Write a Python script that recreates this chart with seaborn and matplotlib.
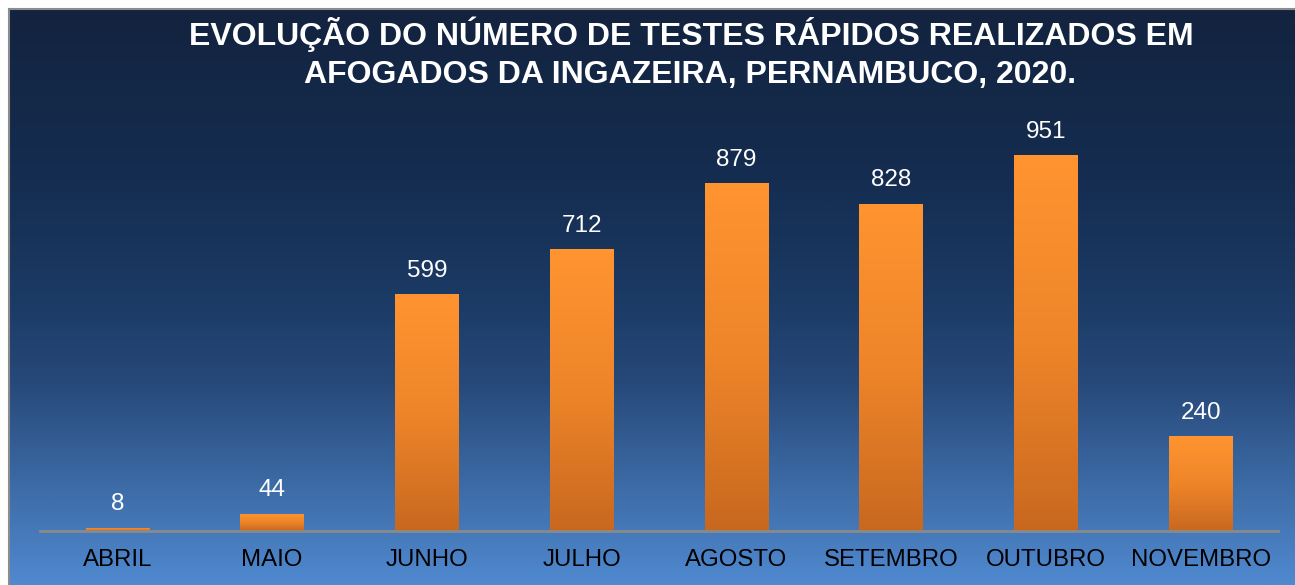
import numpy as np
import pandas as pd
import matplotlib
matplotlib.use("Agg")
import matplotlib.pyplot as plt
from matplotlib.colors import LinearSegmentedColormap
import seaborn as sns

# ---- data ----
months = ["ABRIL", "MAIO", "JUNHO", "JULHO", "AGOSTO", "SETEMBRO", "OUTUBRO", "NOVEMBRO"]
tests = [8, 44, 599, 712, 879, 828, 951, 240]
title_line1 = "EVOLUÇÃO DO NÚMERO DE TESTES RÁPIDOS REALIZADOS EM"
title_line2 = "AFOGADOS DA INGAZEIRA, PERNAMBUCO, 2020."

df = pd.DataFrame({"mes": months, "testes": tests})

sns.set_theme(style="white")
plt.rcParams["font.family"] = ["Liberation Sans", "DejaVu Sans"]

W, H = 1295, 585
fig = plt.figure(figsize=(W / 100, H / 100), dpi=100)
fig.patch.set_facecolor("white")

# ---- background gradient panel ----
bg = fig.add_axes([9 / W, 0, 1 - 9 / W, 1 - 9 / H])
bg_cmap = LinearSegmentedColormap.from_list(
    "bg",
    [(0.0, "#13233f"), (0.3, "#152d51"), (0.5, "#1b3a64"),
     (0.65, "#27497a"), (0.85, "#3f6fab"), (1.0, "#5089d0")],
)
grad = np.linspace(0, 1, 512).reshape(-1, 1)
bg.imshow(grad, aspect="auto", cmap=bg_cmap, extent=[0, 1, 0, 1], origin="upper")
bg.set_xlim(0, 1)
bg.set_ylim(0, 1)
bg.set_xticks([])
bg.set_yticks([])
for s in ["left", "top"]:
    bg.spines[s].set_color("#8c8c8c")
    bg.spines[s].set_linewidth(1.5)
for s in ["right", "bottom"]:
    bg.spines[s].set_visible(False)

# ---- main axes ----
base_y = 531
top_val = 1000
px_per = 376 / 951
ax_h = top_val * px_per
ax = fig.add_axes([40 / W, (H - base_y) / H, (1278 - 40) / W, ax_h / H])
ax.patch.set_alpha(0)

sns.barplot(data=df, x="mes", y="testes", ax=ax, width=0.41, color="#f68a2a",
            saturation=1, zorder=3)
ax.set_xlim(-0.5, len(months) - 0.5)
ax.set_ylim(0, top_val)

bar_cmap = LinearSegmentedColormap.from_list("bar", ["#c8681f", "#ee8529", "#ff9430"])
bgrad = np.linspace(0, 1, 256).reshape(-1, 1)
for p in ax.patches:
    x0, y0 = p.get_x(), p.get_y()
    w, h = p.get_width(), p.get_height()
    # soft shadow
    ax.add_patch(plt.Rectangle((x0 + 0.01, -6), w, 6, color="#0c1a30", alpha=0.35,
                               zorder=2, lw=0))
    im = ax.imshow(bgrad, aspect="auto", cmap=bar_cmap, origin="lower",
                   extent=[x0, x0 + w, y0, y0 + h], zorder=3)
    im.set_clip_path(p)
    p.set_facecolor("none")
    p.set_edgecolor("none")
ax.set_xlim(-0.5, len(months) - 0.5)
ax.set_ylim(0, top_val)

for i, v in enumerate(tests):
    ax.annotate(f"{v}", (i, v), xytext=(0, 9), textcoords="offset points",
                ha="center", va="bottom", color="white", fontsize=17.5, zorder=5)

ax.set_xlabel("")
ax.set_ylabel("")
ax.set_yticks([])
ax.tick_params(axis="x", length=0, pad=13, labelsize=17.3, labelcolor="black")
for s in ["left", "top", "right"]:
    ax.spines[s].set_visible(False)
ax.spines["bottom"].set_color("#8a8a8a")
ax.spines["bottom"].set_linewidth(2)
ax.spines["bottom"].set_zorder(4)

# ---- title ----
fig.text(691 / W, 1 - 45 / H, title_line1, ha="center", va="baseline",
         color="white", fontsize=23, fontweight="bold")
fig.text(690 / W, 1 - 83 / H, title_line2, ha="center", va="baseline",
         color="white", fontsize=23, fontweight="bold")

fig.savefig("out.png", dpi=100)
